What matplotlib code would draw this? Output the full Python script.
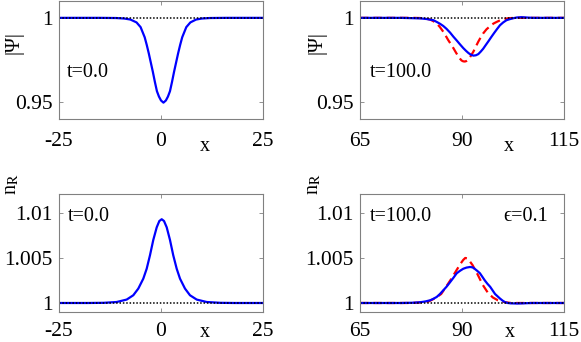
import matplotlib
matplotlib.use("Agg")
import matplotlib.pyplot as plt

plt.rcParams["font.family"] = ["Liberation Serif", "DejaVu Serif"]
plt.rcParams["mathtext.fontset"] = "stix"
plt.rcParams["font.size"] = 14.5

# |Psi| at t=0
psi0_x = [-25, -15, -11, -9, -7.5, -6, -5, -4, -3.5, -3, -2.5, -2, -1.5, -1,
          -0.5, 0, 0.6, 1.2, 1.7, 2.2, 2.7, 3.2, 3.7, 4.2, 4.7, 5.2, 6.2, 7.2,
          8.6, 10, 12, 16, 25]
psi0_y = [1.0, 1.0, 0.9999, 0.9996, 0.999, 0.9973, 0.9945, 0.9885, 0.984,
          0.979, 0.9735, 0.968, 0.962, 0.9565, 0.9533, 0.951, 0.9497, 0.951,
          0.9533, 0.9565, 0.962, 0.968, 0.9735, 0.979, 0.984, 0.9885, 0.9945,
          0.9973, 0.999, 0.9996, 0.9999, 1.0, 1.0]

# |Psi| at t=100, numerical (blue)
psi1_x = [65, 75, 79.7, 81.35, 83.0, 83.8, 84.6, 85.4, 86.2, 87.1, 87.9, 88.7,
          89.5, 90.3, 91.0, 91.6, 92.2, 92.8, 93.4, 94.0, 94.6, 95.2, 95.8,
          96.5, 97.2, 97.9, 98.6, 99.3, 100.1, 100.9, 101.8, 102.6, 103.4,
          104.6, 105.8, 107.5, 115]
psi1_y = [1.0, 1.0, 0.9997, 0.9993, 0.9986, 0.9976, 0.9965, 0.9952, 0.9935,
          0.9912, 0.9888, 0.9866, 0.9843, 0.9821, 0.9804, 0.9791, 0.9781,
          0.9776, 0.9778, 0.9785, 0.98, 0.9817, 0.9838, 0.9862, 0.9887, 0.9911,
          0.9934, 0.9956, 0.9973, 0.9986, 0.9993, 0.9998, 1.0002, 1.0004,
          1.0002, 1.0, 1.0]

# |Psi| at t=100, soliton (red dashed)
psi1s_x = [65, 78, 79.7, 81, 82.2, 83.0, 83.8, 84.6, 85.4, 86.0, 86.6, 87.3,
           87.9, 88.5, 89.1, 89.5, 89.9, 90.3, 90.7, 91.1, 91.5, 92.1, 92.8,
           93.4, 94.0, 94.6, 95.2, 96.0, 96.9, 97.7, 98.5, 99.3, 100.1, 101.4,
           103, 115]
psi1s_y = [1.0, 1.0, 0.9999, 0.9996, 0.999, 0.998, 0.9967, 0.9945, 0.9918,
           0.9894, 0.9869, 0.9843, 0.982, 0.9795, 0.9771, 0.9758, 0.9747,
           0.9742, 0.9741, 0.9744, 0.9751, 0.9772, 0.98, 0.983, 0.9859, 0.9885,
           0.9908, 0.9932, 0.9951, 0.9966, 0.9976, 0.9985, 0.9992, 0.9998, 1.0,
           1.0]

# n_R at t=0
nr0_x = [-25, -18, -14, -10.86, -8.41, -6.79, -5.56, -4.34, -3.51, -2.7, -1.89,
         -1.05, -0.41, 0.17, 0.74, 1.4, 2.2, 3.0, 3.85, 4.66, 5.88, 7.1, 8.75,
         11.2, 14.5, 18, 25]
nr0_y = [1.0, 1.0, 1.00002, 1.00011, 1.00038, 1.00086, 1.0016, 1.0027, 1.0038,
         1.0053, 1.007, 1.0084, 1.0091, 1.0093, 1.0091, 1.0084, 1.007, 1.0053,
         1.0038, 1.0027, 1.0016, 1.00086, 1.00038, 1.00011, 1.00002, 1.0, 1.0]

# n_R at t=100, numerical (blue)
nr1_x = [65, 75, 78, 79.7, 81, 82.2, 83.0, 83.8, 84.6, 85.4, 86.2, 87.06, 87.9,
         88.7, 89.5, 90.3, 91.1, 92.0, 92.6, 93.1, 93.7, 94.4, 95.0, 95.6, 96.2,
         96.9, 97.5, 98.1, 98.7, 99.3, 99.9, 100.5, 101.2, 102, 103.5, 105,
         107, 115]
nr1_y = [1.0, 1.0, 1.00003, 1.00008, 1.00017, 1.0003, 1.00047, 1.00067, 1.001,
         1.0014, 1.0018, 1.0023, 1.0028, 1.0033, 1.00357, 1.0038, 1.00393,
         1.004, 1.00395, 1.0038, 1.00358, 1.0033, 1.0029, 1.0025, 1.00215,
         1.0018, 1.0014, 1.001, 1.00075, 1.0005, 1.00028, 1.0001, 1.0, 0.99996,
         0.99994, 0.99996, 1.0, 1.0]

# n_R at t=100, soliton (red dashed)
nr1s_x = [65, 77, 79.2, 81.7, 83.3, 84.9, 86.1, 87.4, 88.6, 89.7, 90.3, 90.8,
          91.3, 91.8, 92.6, 93.9, 95.1, 96.4, 97.6, 98.8, 100.4, 102, 115]
nr1s_y = [1.0, 1.0, 1.00004, 1.00015, 1.0005, 1.001, 1.0018, 1.0027, 1.0036,
          1.0044, 1.00478, 1.005, 1.00495, 1.0047, 1.0042, 1.0031, 1.002,
          1.0011, 1.0006, 1.0003, 1.0001, 1.0, 1.0]

xlim_left = [-25, 25]
xlim_right = [65, 115]
xticks_left = [-25, 0, 25]
xticks_right = [65, 90, 115]
psi_ticks = [0.95, 1]
psi_ticklabels = ["0.95", "1"]
nr_ticks = [1, 1.005, 1.01]
nr_ticklabels = ["1", "1.005", "1.01"]

blue = "#0000ff"
red = "#ff0000"
frame = "#808080"

fig = plt.figure(figsize=(5.81, 3.42), dpi=100)
W = 204 / 581
H = 118 / 342
axs = {
    "tl": fig.add_axes([59 / 581, 1 - 119 / 342, W, H]),
    "tr": fig.add_axes([360 / 581, 1 - 119 / 342, W, H]),
    "bl": fig.add_axes([59 / 581, 1 - 312 / 342, W, H]),
    "br": fig.add_axes([360 / 581, 1 - 312 / 342, W, H]),
}


def style(ax, xlim, xticks, yticks, ylabels, ylim, pad_x):
    ax.set_xlim(xlim)
    ax.set_ylim(ylim)
    ax.set_xticks(xticks)
    ax.set_xticklabels([str(t) for t in xticks])
    ax.set_yticks(yticks)
    ax.set_yticklabels(ylabels)
    ax.tick_params(direction="in", length=3, width=0.6, color=frame,
                   top=True, right=True, labelsize=15.5)
    ax.tick_params(axis="x", pad=pad_x)
    ax.tick_params(axis="y", pad=4.5)
    for s in ax.spines.values():
        s.set_color(frame)
        s.set_linewidth(0.8)


dots = (0, (1, 1.2))
dashes = (0, (3.8, 2.2))

# top left
ax = axs["tl"]
ax.plot(psi0_x, psi0_y, color=blue, lw=1.6)
ax.axhline(1, color="k", ls=dots, lw=1.1)
style(ax, xlim_left, xticks_left, psi_ticks, psi_ticklabels, (0.94, 1.01), 9.5)
ax.text(0.04, 0.356, "t=0.0", transform=ax.transAxes, va="baseline")

# top right
ax = axs["tr"]
ax.plot(psi1s_x, psi1s_y, color=red, lw=1.6, ls=dashes)
ax.plot(psi1_x, psi1_y, color=blue, lw=1.6)
ax.axhline(1, color="k", ls=dots, lw=1.1)
style(ax, xlim_right, xticks_right, psi_ticks, psi_ticklabels, (0.94, 1.01), 9.5)
ax.text(0.049, 0.356, "t=100.0", transform=ax.transAxes, va="baseline")

# bottom left
ax = axs["bl"]
ax.plot(nr0_x, nr0_y, color=blue, lw=1.6)
ax.axhline(1, color="k", ls=dots, lw=1.1)
style(ax, xlim_left, xticks_left, nr_ticks, nr_ticklabels, (0.999, 1.0121), 7)
ax.text(0.044, 0.771, "t=0.0", transform=ax.transAxes, va="baseline")

# bottom right
ax = axs["br"]
ax.plot(nr1s_x, nr1s_y, color=red, lw=1.6, ls=dashes)
ax.plot(nr1_x, nr1_y, color=blue, lw=1.6)
ax.axhline(1, color="k", ls=dots, lw=1.1)
style(ax, xlim_right, xticks_right, nr_ticks, nr_ticklabels, (0.999, 1.0121), 7)
ax.text(0.049, 0.771, "t=100.0", transform=ax.transAxes, va="baseline")
ax.text(0.70, 0.771, "ϵ=0.1", transform=ax.transAxes, va="baseline")

# axis labels
xlab_pos = {"tl": (0.716, -0.269), "tr": (0.729, -0.269),
            "bl": (0.716, -0.208), "br": (0.735, -0.208)}
ylab_pos = {"tl": (-0.22, 0.648), "tr": (-0.212, 0.648),
            "bl": (-0.23, 1.08), "br": (-0.228, 1.08)}
for key, ax in axs.items():
    ax.set_xlabel("x")
    ax.xaxis.label.set_va("baseline")
    ax.xaxis.set_label_coords(*xlab_pos[key])
    if key in ("tl", "tr"):
        ax.set_ylabel("|Ψ|")
    else:
        ax.set_ylabel(r"n$_{\rm R}$")
    ax.yaxis.label.set_va("center")
    ax.yaxis.set_label_coords(*ylab_pos[key])

fig.savefig("out.png", dpi=100)
